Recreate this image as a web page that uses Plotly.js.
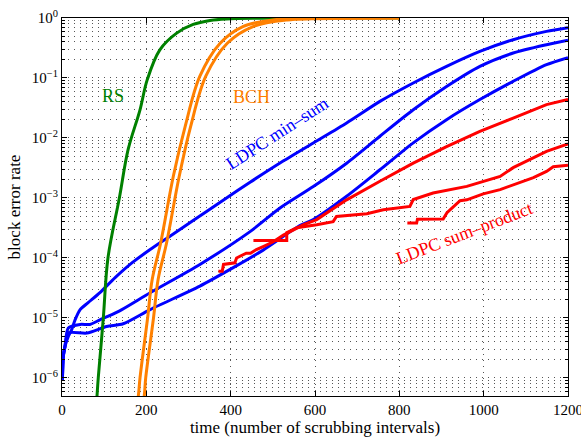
<!DOCTYPE html>
<html>
<head>
<meta charset="utf-8">
<script src="https://cdn.plot.ly/plotly-3.0.1.min.js"></script>
<style>html,body{margin:0;padding:0;background:#fff;}#chart{width:581px;height:437px;}</style>
</head>
<body>
<div id="chart"></div>
<script>
// ---- data ----
var rsX  = [81, 83, 86, 98, 109, 136, 157, 185, 202, 232, 272, 311, 351, 390, 470, 600, 800];
var rsY  = [3.2e-7, 5.0e-7, 1.0e-6, 1.0e-5, 1.0e-4, 1.0e-3, 6.5e-3, 2.95e-2, 9.3e-2, 0.295, 0.56, 0.78, 0.91, 0.966, 0.993, 1.0, 1.0];

var bchAX = [176, 181, 185, 203, 214, 234, 264, 292, 327, 375, 429, 500, 636, 800];
var bchAY = [3.2e-7, 5.0e-7, 1.0e-6, 1.0e-5, 4.4e-5, 1.78e-4, 2.3e-3, 1.55e-2, 0.107, 0.38, 0.72, 0.93, 0.989, 1.0];
var bchBX = [190, 195, 198.5, 217, 228, 248, 278, 305, 341, 392, 453, 534, 683, 800];
var bchBY = [3.2e-7, 5.0e-7, 1.0e-6, 1.0e-5, 4.4e-5, 1.78e-4, 2.3e-3, 1.55e-2, 0.107, 0.38, 0.72, 0.93, 0.989, 1.0];

var ms1X = [1, 3, 7, 15, 23, 31, 43, 62, 90, 126, 168, 209, 249, 311, 391, 446, 517, 596, 675, 754, 833, 912, 991, 1070, 1149, 1200];
var ms1Y = [9.3e-7, 2.26e-6, 3.33e-6, 4.9e-6, 6.4e-6, 9.3e-6, 1.38e-5, 1.8e-5, 2.64e-5, 4.7e-5, 8.5e-5, 1.38e-4, 2.14e-4, 4.2e-4, 1.01e-3, 1.83e-3, 3.83e-3, 8.26e-3, 1.78e-2, 4.07e-2, 8.26e-2, 0.156, 0.277, 0.435, 0.598, 0.69];
var ms2X = [1, 3, 7, 15, 43, 66, 90, 110, 142, 209, 327, 446, 517, 596, 675, 754, 833, 912, 991, 1070, 1149, 1200];
var ms2Y = [9.3e-7, 2.26e-6, 3.33e-6, 6.8e-6, 7.8e-6, 7.8e-6, 9.3e-6, 1.07e-5, 1.38e-5, 2.63e-5, 7.8e-5, 2.75e-4, 6.8e-4, 1.55e-3, 3.8e-3, 1.07e-2, 2.95e-2, 7.2e-2, 0.156, 0.261, 0.359, 0.427];
var ms3X = [1, 3, 7, 15, 59, 106, 145, 209, 327, 406, 477, 564, 596, 675, 754, 833, 912, 991, 1070, 1149, 1200];
var ms3Y = [9.3e-7, 2.26e-6, 3.33e-6, 5.6e-6, 5.6e-6, 7.2e-6, 8.0e-6, 1.38e-5, 3.4e-5, 6.9e-5, 1.35e-4, 3.47e-4, 4.37e-4, 1.07e-3, 2.95e-3, 8.3e-3, 2.02e-2, 4.37e-2, 8.8e-2, 0.167, 0.219];

var sp1X = [371, 380, 383, 406, 410, 414, 437, 447, 461, 477, 501, 525, 549, 572, 604, 675, 754, 833, 912, 991, 1070, 1149, 1200];
var sp1Y = [6.0e-5, 6.0e-5, 7.8e-5, 8.3e-5, 8.3e-5, 1.0e-4, 1.2e-4, 1.2e-4, 1.38e-4, 1.55e-4, 1.86e-4, 2.4e-4, 2.95e-4, 3.55e-4, 4.37e-4, 9.3e-4, 1.9e-3, 3.8e-3, 7.2e-3, 1.29e-2, 2.14e-2, 3.6e-2, 4.37e-2];
var sp2X = [454, 533, 533, 557, 604, 643, 651, 723, 762, 825, 833, 880, 960, 1039, 1070, 1110, 1149, 1200];
var sp2Y = [1.96e-4, 1.96e-4, 2.64e-4, 3.2e-4, 3.59e-4, 4.03e-4, 4.93e-4, 5.47e-4, 6.38e-4, 7.24e-4, 9.4e-4, 1.21e-3, 1.56e-3, 2.29e-3, 3.2e-3, 4.37e-3, 5.98e-3, 8.0e-3];
var sp3X = [819, 841, 843, 904, 913, 928, 944, 960, 999, 1039, 1070, 1118, 1149, 1165, 1200];
var sp3Y = [3.83e-4, 3.83e-4, 4.44e-4, 4.47e-4, 5.69e-4, 7.24e-4, 9.0e-4, 9.3e-4, 1.17e-3, 1.38e-3, 1.66e-3, 2.19e-3, 2.77e-3, 3.31e-3, 3.52e-3];

var xTicks = [0, 200, 400, 600, 800, 1000, 1200];
var yTicks = [1e-6, 1e-5, 1e-4, 1e-3, 1e-2, 1e-1, 1];
var yTickText = ['10<sup>−6</sup>', '10<sup>−5</sup>', '10<sup>−4</sup>', '10<sup>−3</sup>', '10<sup>−2</sup>', '10<sup>−1</sup>', '10<sup>0</sup>'];

var labels = ['RS', 'BCH', 'LDPC min–sum', 'LDPC sum–product'];

// ---- styling ----
var FONT = 'Liberation Serif, Times New Roman, serif';
var GREEN = '#008000', ORANGE = '#ff8000', BLUE = '#0000ff', RED = '#ff0000';
var LW = 3;

var minorY = [];
for (var k = -7; k <= -1; k++) {
  for (var d = 2; d <= 9; d++) {
    var v = d * Math.pow(10, k);
    if (v >= 5e-7 && v < 1) minorY.push(v);
  }
}

function line(x, y, c, smooth) {
  var ln = {color: c, width: LW};
  if (smooth) { ln.shape = 'spline'; ln.smoothing = smooth; }
  return {x: x, y: y, type: 'scatter', mode: 'lines', line: ln, hoverinfo: 'skip', showlegend: false};
}

var data = [
  line(ms1X, ms1Y, BLUE, 0.7), line(ms2X, ms2Y, BLUE, 0.7), line(ms3X, ms3Y, BLUE, 0.7),
  line(sp1X, sp1Y, RED), line(sp2X, sp2Y, RED), line(sp3X, sp3Y, RED),
  line(rsX, rsY, GREEN, 1),
  line(bchAX, bchAY, ORANGE, 1), line(bchBX, bchBY, ORANGE, 1)
];

var GRID = '#555555';
var GDASH = '1px,5px';

var layout = {
  width: 581, height: 437,
  margin: {l: 62, r: 13, t: 18, b: 41, pad: 0},
  paper_bgcolor: '#fff', plot_bgcolor: '#fff',
  font: {family: FONT, size: 15, color: '#000'},
  showlegend: false,
  xaxis: {
    range: [0, 1200], tickmode: 'array', tickvals: xTicks,
    ticks: 'inside', ticklen: 5, tickwidth: 1, tickcolor: '#000',
    showline: true, linecolor: '#000', linewidth: 1, mirror: 'ticks',
    showgrid: true, gridcolor: GRID, gridwidth: 1, griddash: GDASH,
    zeroline: false, tickfont: {family: FONT, size: 15}, ticklabeloverflow: 'allow',
    title: {text: 'time (number of scrubbing intervals)', font: {family: FONT, size: 17}, standoff: 4}
  },
  yaxis: {
    type: 'log', range: [-6.301, 0], tickmode: 'array', tickvals: yTicks, ticktext: yTickText,
    ticks: 'inside', ticklen: 5, tickwidth: 1, tickcolor: '#000',
    showline: true, linecolor: '#000', linewidth: 1, mirror: 'ticks',
    showgrid: true, gridcolor: GRID, gridwidth: 1, griddash: GDASH,
    zeroline: false, tickfont: {family: FONT, size: 15}, ticklabeloverflow: 'allow',
    minor: {tickmode: 'array', tickvals: minorY, ticks: 'inside', ticklen: 3, tickcolor: '#000',
            showgrid: true, gridcolor: GRID, gridwidth: 1, griddash: GDASH},
    title: {text: 'block error rate', font: {family: FONT, size: 17}, standoff: 6}
  },
  annotations: [
    {text: labels[0], x: 121, y: -1.295, xref: 'x', yref: 'y', showarrow: false, font: {family: FONT, size: 18, color: GREEN}},
    {text: labels[1], x: 449, y: -1.31, xref: 'x', yref: 'y', showarrow: false, font: {family: FONT, size: 18, color: ORANGE}},
    {text: labels[2], x: 511, y: -1.91, xref: 'x', yref: 'y', showarrow: false, textangle: -33, font: {family: FONT, size: 18, color: BLUE}},
    {text: labels[3], x: 955, y: -3.58, xref: 'x', yref: 'y', showarrow: false, textangle: -21, font: {family: FONT, size: 18, color: RED}}
  ]
};

Plotly.newPlot('chart', data, layout, {staticPlot: true, displayModeBar: false});
</script>
</body>
</html>
